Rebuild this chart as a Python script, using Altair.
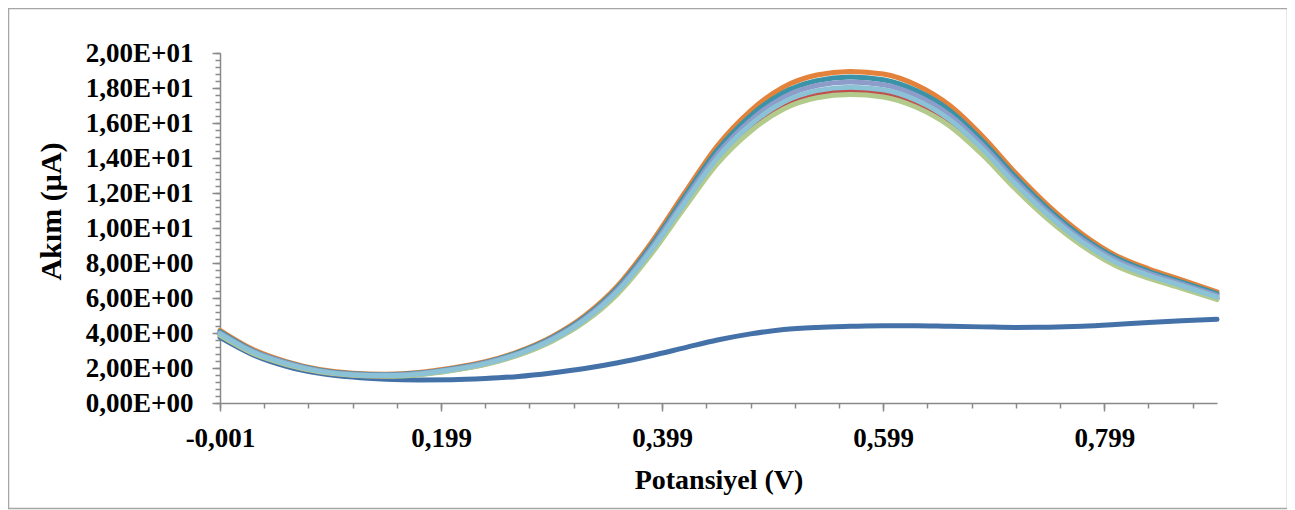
import json
import altair as alt
import pandas as pd

# ---- data ----
potential = [-0.001, 0.029, 0.059, 0.089, 0.119, 0.149, 0.179, 0.209, 0.239, 0.269,
             0.299, 0.329, 0.359, 0.389, 0.419, 0.449, 0.479, 0.509, 0.539, 0.569,
             0.599, 0.629, 0.659, 0.689, 0.719, 0.749, 0.779, 0.809, 0.839, 0.869, 0.901]

blank = [3.75, 2.75, 2.1, 1.7, 1.48, 1.36, 1.32, 1.33, 1.4, 1.52, 1.72, 1.97, 2.3, 2.7, 3.15,
         3.6, 3.95, 4.2, 4.32, 4.38, 4.42, 4.42, 4.38, 4.35, 4.32, 4.33, 4.38, 4.48, 4.6, 4.7, 4.78]
s_orange = [4.15, 3.05, 2.36, 1.91, 1.70, 1.65, 1.74, 2.0, 2.36, 2.94, 3.78, 4.99, 6.72, 9.14, 11.97,
            14.7, 16.7, 18.06, 18.74, 18.95, 18.8, 18.17, 17.01, 15.23, 13.13, 11.24, 9.66, 8.45,
            7.67, 7.04, 6.35]
s_teal = [4.08, 2.99, 2.32, 1.88, 1.67, 1.62, 1.71, 1.96, 2.32, 2.89, 3.72, 4.9, 6.6, 8.98, 11.76,
          14.45, 16.41, 17.75, 18.42, 18.63, 18.47, 17.85, 16.72, 14.96, 12.9, 11.04, 9.49, 8.31,
          7.53, 6.91, 6.24]
s_purple = [4.01, 2.95, 2.29, 1.85, 1.65, 1.6, 1.69, 1.93, 2.29, 2.84, 3.66, 4.83, 6.5, 8.84, 11.58,
            14.22, 16.15, 17.48, 18.14, 18.34, 18.19, 17.58, 16.46, 14.73, 12.7, 10.87, 9.35, 8.18,
            7.42, 6.81, 6.15]
s_red = [3.91, 2.87, 2.23, 1.8, 1.6, 1.55, 1.64, 1.88, 2.23, 2.77, 3.56, 4.7, 6.34, 8.61, 11.29,
         13.86, 15.74, 17.03, 17.67, 17.87, 17.72, 17.13, 16.04, 14.36, 12.38, 10.59, 9.11, 7.97,
         7.23, 6.63, 5.99]
s_green = [3.86, 2.83, 2.2, 1.78, 1.58, 1.53, 1.62, 1.86, 2.2, 2.74, 3.52, 4.64, 6.25, 8.5, 11.14,
           13.68, 15.53, 16.8, 17.44, 17.63, 17.49, 16.9, 15.83, 14.17, 12.21, 10.45, 8.99, 7.86,
           7.13, 6.55, 5.91]
s_lightblue = [3.95, 2.9, 2.25, 1.82, 1.62, 1.57, 1.66, 1.9, 2.25, 2.8, 3.6, 4.75, 6.4, 8.7, 11.4,
               14.0, 15.9, 17.2, 17.85, 18.05, 17.9, 17.3, 16.2, 14.5, 12.5, 10.7, 9.2, 8.05,
               7.3, 6.7, 6.05]

x_major_values = [-0.001, 0.199, 0.399, 0.599, 0.799]
x_major_labels = ["-0,001", "0,199", "0,399", "0,599", "0,799"]
x_minor_values = [-0.001, 0.039, 0.079, 0.119, 0.159, 0.199, 0.239, 0.279, 0.319, 0.359, 0.399,
                  0.439, 0.479, 0.519, 0.559, 0.599, 0.639, 0.679, 0.719, 0.759, 0.799, 0.839, 0.879]
y_major_values = [0, 2, 4, 6, 8, 10, 12, 14, 16, 18, 20]
y_major_labels = ["0,00E+00", "2,00E+00", "4,00E+00", "6,00E+00", "8,00E+00", "1,00E+01",
                  "1,20E+01", "1,40E+01", "1,60E+01", "1,80E+01", "2,00E+01"]
y_minor_values = [0, 0.4, 0.8, 1.2, 1.6, 2, 2.4, 2.8, 3.2, 3.6, 4, 4.4, 4.8, 5.2, 5.6, 6, 6.4, 6.8,
                  7.2, 7.6, 8, 8.4, 8.8, 9.2, 9.6, 10, 10.4, 10.8, 11.2, 11.6, 12, 12.4, 12.8, 13.2,
                  13.6, 14, 14.4, 14.8, 15.2, 15.6, 16, 16.4, 16.8, 17.2, 17.6, 18, 18.4, 18.8,
                  19.2, 19.6, 20]

series = [
    ("blank", blank, "#4472A8"),
    ("orange", s_orange, "#E3823A"),
    ("teal", s_teal, "#3A93A6"),
    ("purple", s_purple, "#8D9CC9"),
    ("red", s_red, "#C0504D"),
    ("green", s_green, "#B2CA8C"),
    ("lightblue", s_lightblue, "#8CC2D6"),
]

FONT = "Liberation Serif"
GRAY = "#898989"
x_scale = alt.Scale(domain=[-0.001, 0.901], nice=False, zero=False)
y_scale = alt.Scale(domain=[0, 20], nice=False, zero=True)

x_label_expr = "%s[round((datum.value + 0.001) / 0.2)]" % json.dumps(x_major_labels)
y_label_expr = "%s[round(datum.value / 2)]" % json.dumps(y_major_labels)

x_major_axis = alt.Axis(orient="bottom", values=x_major_values, labelExpr=x_label_expr,
                        title="Potansiyel (V)",
                        grid=False, tickSize=8, tickWidth=1.5, tickColor=GRAY,
                        domainColor=GRAY, domainWidth=1.5, labelFont=FONT, labelFontSize=27,
                        labelFontWeight="bold", labelColor="black", labelPadding=14,
                        labelFlush=False, labelOverlap=False,
                        titleFont=FONT, titleFontSize=28, titleFontWeight="bold",
                        titleColor="black", titleY=85, titleBaseline="alphabetic")
y_major_axis = alt.Axis(orient="left", values=y_major_values, labelExpr=y_label_expr,
                        title="Akım (µA)",
                        grid=False, tickSize=8, tickWidth=1.5, tickColor=GRAY,
                        domainColor=GRAY, domainWidth=1.5, labelFont=FONT, labelFontSize=27,
                        labelFontWeight="bold", labelColor="black", labelPadding=19,
                        labelFlush=False, labelOverlap=False,
                        titleFont=FONT, titleFontSize=30, titleFontWeight="bold",
                        titleColor="black", titleX=-160, titleY=158, titleAngle=270,
                        titleBaseline="alphabetic", titleAlign="center")
x_minor_axis = alt.Axis(orient="bottom", values=x_minor_values, labels=False, domain=False,
                        grid=False, title=None, tickSize=5, tickWidth=1.5, tickColor=GRAY)
y_minor_axis = alt.Axis(orient="left", values=y_minor_values, labels=False, domain=False,
                        grid=False, title=None, tickSize=5, tickWidth=1.5, tickColor=GRAY)

layers = []
frame = alt.Chart(pd.DataFrame({"k": [0]})).mark_rect(
    filled=False, stroke="#A6A6A6", strokeWidth=1.5
).encode(x=alt.value(-211.5), x2=alt.value(1067.5), y=alt.value(-44.5), y2=alt.value(455.5))
layers.append(frame)

for i, (name, vals, color) in enumerate(series):
    df = pd.DataFrame({"potential": potential, "current": vals})
    if i == 0:
        xa, ya = x_major_axis, y_major_axis
    elif i == 1:
        xa, ya = x_minor_axis, y_minor_axis
    else:
        xa, ya = None, None
    layers.append(
        alt.Chart(df).mark_line(color=color, strokeWidth=5, interpolate="monotone",
                                strokeCap="round", strokeJoin="round").encode(
            x=alt.X("potential:Q", scale=x_scale, axis=xa),
            y=alt.Y("current:Q", scale=y_scale, axis=ya),
        )
    )

chart = alt.layer(*layers).resolve_axis(x="independent", y="independent").properties(
    width=997, height=350,
    autosize=alt.AutoSizeParams(type="none"),
    padding={"left": 212, "top": 45, "right": 70, "bottom": 108},
    background="white",
).configure_view(stroke=None)

chart.save("out.html", embed_options={"renderer": "svg", "actions": False})
